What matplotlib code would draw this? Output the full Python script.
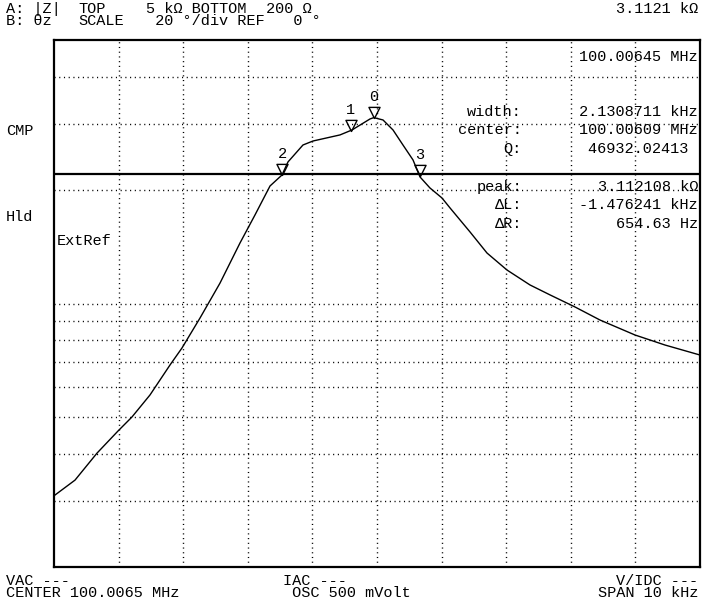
import matplotlib
matplotlib.use('Agg')
import matplotlib.pyplot as plt
from matplotlib.path import Path
import numpy as np

# sweep: center 100.0065 MHz, span 10 kHz -> offsets in kHz
center_mhz = 100.0065
span_khz = 10.0
z_top = 5000.0
z_bottom = 200.0

# |Z| trace (offset kHz, ohm)
freq_off = [-5.0, -4.675, -4.334, -4.009, -3.793, -3.514, -3.204, -3.019, -2.740,
            -2.430, -2.121, -1.889, -1.656, -1.471, -1.378, -1.146, -0.991, -0.573,
            -0.387, -0.108, -0.05, 0.093, 0.248, 0.402, 0.557, 0.666, 0.820, 1.006,
            1.130, 1.440, 1.703, 2.012, 2.368, 2.678, 3.065, 3.452, 3.994, 4.458, 5.0]
z_mag = [309, 340, 401, 459, 500, 572, 687, 762, 915,
         1133, 1447, 1717, 2050, 2192, 2374, 2633, 2698, 2800,
         2886, 3087, 3112, 3068, 2886, 2633, 2404, 2166, 2025, 1905,
         1793, 1548, 1361, 1227, 1120, 1054, 979, 904, 825, 776, 730]

peak = 3112.108
marker_labels = ['0', '1', '2', '3']
marker_off = [-0.05, -0.41, -1.47, 0.66]

grid_z = [300, 400, 500, 600, 700, 800, 900, 1000, 2000, 3000, 4000]
grid_f = [-4, -3, -2, -1, 0, 1, 2, 3, 4]

table_labels = ['width:', 'center:', 'Q:', 'peak:', '\u0394L:', '\u0394R:']
table_values = ['2.1308711 kHz', '100.00609 MHz', '46932.02413 ', '3.112108 k\u03a9',
                '-1.476241 kHz', '654.63 Hz']
table_y = [112, 130, 149, 187, 205, 224]

W, H = 702, 601
plt.rcParams['font.family'] = ['Liberation Mono', 'DejaVu Sans Mono']
fs = 11

fig = plt.figure(figsize=(W / 100, H / 100), dpi=100)
ax = fig.add_axes([54 / W, 1 - 567 / H, 646 / W, 527 / H])
ax.set_xlim(-span_khz / 2, span_khz / 2)
ax.set_yscale('log')
ax.set_ylim(z_bottom, z_top)
ax.set_xticks([])
ax.set_yticks([])
ax.minorticks_off()
for s in ax.spines.values():
    s.set_linewidth(1.6)

dot = (0, (0.8, 2.6))
for g in grid_z:
    ax.axhline(g, color='black', lw=1.0, ls=dot)
for g in grid_f:
    ax.axvline(g, color='black', lw=1.0, ls=dot)

ax.axhline(peak / np.sqrt(2), color='black', lw=1.6)
ax.plot(freq_off, z_mag, color='black', lw=1.0)

tri = Path([(0, 0), (-1, 2), (1, 2), (0, 0)], [Path.MOVETO, Path.LINETO, Path.LINETO, Path.CLOSEPOLY])
mz = np.interp(marker_off, freq_off, z_mag)
for lab, f, z in zip(marker_labels, marker_off, mz):
    ax.plot([f], [z], marker=tri, ms=16, mfc='none', mec='black', mew=1.0)
    ax.annotate(lab, (f, z), xytext=(0, 15), textcoords='offset points',
                ha='center', va='center', fontsize=fs)


def px(x, y, s, ha='left'):
    fig.text(x / W, 1 - y / H, s, ha=ha, va='center', fontsize=fs,
             multialignment=ha, linespacing=0.78)


# header (two rows per block)
px(6, 15, 'A: |Z|\nB: \u03b8z')
px(78, 15, 'TOP\nSCALE')
px(146, 15, '5 k\u03a9 BOTTOM\n 20 \u00b0/div REF')
px(266, 15, '200 \u03a9\n   0 \u00b0')
px(698, 9, '3.1121 k\u03a9', ha='right')

# side labels
px(6, 131, 'CMP')
px(6, 217, 'Hld')
px(57, 241, 'ExtRef')

# marker table
px(698, 57, '100.00645 MHz', ha='right')
for lab, val, y in zip(table_labels, table_values, table_y):
    px(522, y, lab, ha='right')
    px(698, y, val, ha='right')

# footer
px(6, 587, 'VAC ---\nCENTER 100.0065 MHz')
px(283, 587, 'IAC ---\n OSC 500 mVolt')
px(698, 587, 'V/IDC ---\nSPAN 10 kHz', ha='right')

fig.savefig('out.png', dpi=100)
